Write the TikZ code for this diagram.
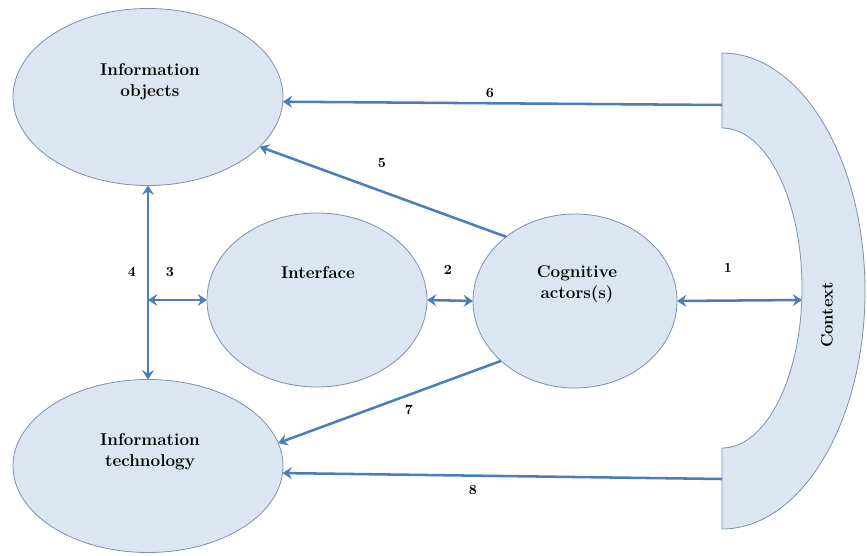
\documentclass[tikz,border=0pt]{standalone}
\usetikzlibrary{shapes.geometric,arrows.meta}
\definecolor{boxfill}{RGB}{220,230,242}
\definecolor{boxline}{RGB}{125,144,170}
\definecolor{arrowblue}{RGB}{74,126,187}
\begin{document}
\begin{tikzpicture}[x=0.75pt,y=-0.75pt,
  blob/.style={ellipse,draw=boxline,line width=0.6pt,fill=boxfill,inner sep=0pt,outer sep=0pt},
  maintext/.style={align=center,font=\fontsize{12.8}{15.5}\selectfont\bfseries,inner sep=0pt},
  numlabel/.style={font=\fontsize{10.5}{12}\selectfont\bfseries,inner sep=0pt},
  conn/.style={draw=arrowblue,line width=1.9pt},
  tip/.style={-{Stealth[length=7pt,width=9pt,inset=2.5pt]}},
  bothtips/.style={{Stealth[length=7pt,width=9pt,inset=2.5pt]}-{Stealth[length=7pt,width=9pt,inset=2.5pt]}}]
\useasboundingbox (0,0) rectangle (867,556);

% context shape
\path[draw=boxline,line width=0.6pt,fill=boxfill]
  (722,53) arc[start angle=90,end angle=-90,x radius=107.25pt,y radius=178.5pt]
  -- (722,448)
  arc[start angle=-90,end angle=90,x radius=60pt,y radius=120pt]
  -- cycle;
\node[maintext,rotate=90,font=\fontsize{12.5}{14}\selectfont\bfseries] (tctx) at (827,315) {Context};

% ellipses
\node[blob,minimum width=202.5pt,minimum height=132.75pt] (io) at (148,97) {};
\node[blob,minimum width=202.5pt,minimum height=129.75pt] (it) at (148,466) {};
\node[blob,minimum width=165pt,minimum height=130.5pt] (iface) at (317,300) {};
\node[blob,minimum width=153pt,minimum height=130.5pt] (cog) at (575,301) {};

\node[maintext] (tio) at (150,82) {Information\\objects};
\node[maintext] (tit) at (150,452) {Information\\technology};
\node[maintext] (tiface) at (318,273) {Interface};
\node[maintext] (tcog) at (577,284) {Cognitive\\actors(s)};

% connector end points on the context shape
\coordinate (c1) at (802,300);
\coordinate (c6) at (722,105);
\coordinate (c8) at (722,479);
\coordinate (j3) at (148,300);

% connectors
\draw[conn,bothtips] (cog.east) -- (c1);
\draw[conn,bothtips] (iface.east) -- (cog.west);
\draw[conn,bothtips] (j3) -- (iface.west);
\draw[conn,bothtips] (io.south) -- (it.north);
\draw[conn,tip] (cog.137.5) -- (io.-24);
\draw[conn,tip] (c6) -- (io.-2);
\draw[conn,tip] (cog.219.4) -- (it.10.7);
\draw[conn,tip] (c8) -- (it.-3.3);

% labels
\node[numlabel] (l1) at (728,268) {1};
\node[numlabel] (l2) at (448,270) {2};
\node[numlabel] (l3) at (170,272) {3};
\node[numlabel] (l4) at (132,272) {4};
\node[numlabel] (l5) at (382,163) {5};
\node[numlabel] (l6) at (490,93) {6};
\node[numlabel] (l7) at (409,410) {7};
\node[numlabel] (l8) at (473,490) {8};
\end{tikzpicture}
\end{document}
